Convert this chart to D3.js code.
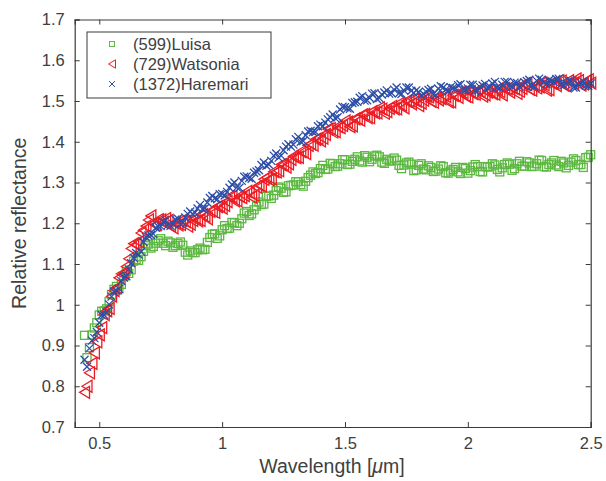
<!DOCTYPE html>
<html>
<head>
<meta charset="utf-8">
<script src="https://cdn.jsdelivr.net/npm/d3@7"></script>
<style>
  body { margin: 0; background: #fff; }
  svg { display: block; font-family: Arial, "Liberation Sans", Helvetica, sans-serif; }
</style>
</head>
<body>
<svg id="chart" width="606" height="481"></svg>
<script>
// ---- data ----
const wavelength = [
  0.44,0.46,0.48,0.50,0.52,0.54,0.56,0.58,0.60,0.62,0.64,0.66,0.68,0.70,0.72,0.74,0.76,0.78,0.80,0.82,
  0.84,0.86,0.88,0.90,0.92,0.94,0.96,0.98,1.00,1.02,1.04,1.06,1.08,1.10,1.12,1.14,1.16,1.18,1.20,1.22,
  1.24,1.26,1.28,1.30,1.32,1.34,1.36,1.38,1.40,1.42,1.44,1.46,1.48,1.50,1.52,1.54,1.56,1.58,1.60,1.62,
  1.64,1.66,1.68,1.70,1.72,1.74,1.76,1.78,1.80,1.82,1.84,1.86,1.88,1.90,1.92,1.94,1.96,1.98,2.00,2.02,
  2.04,2.06,2.08,2.10,2.12,2.14,2.16,2.18,2.20,2.22,2.24,2.26,2.28,2.30,2.32,2.34,2.36,2.38,2.40,2.42,
  2.44,2.46,2.48,2.50
];
const wavelengthB = [
  0.45,0.47,0.49,0.51,0.53,0.55,0.57,0.59,0.61,0.63,0.65,0.67,0.69,0.71,0.73,0.75,0.77,0.79,0.81,0.83,
  0.85,0.87,0.89,0.91,0.93,0.95,0.97,0.99,1.01,1.03,1.05,1.07,1.09,1.11,1.13,1.15,1.17,1.19,1.21,1.23,
  1.25,1.27,1.29,1.31,1.33,1.35,1.37,1.39,1.41,1.43,1.45,1.47,1.49,1.51,1.53,1.55,1.57,1.59,1.61,1.63,
  1.65,1.67,1.69,1.71,1.73,1.75,1.77,1.79,1.81,1.83,1.85,1.87,1.89,1.91,1.93,1.95,1.97,1.99,2.01,2.03,
  2.05,2.07,2.09,2.11,2.13,2.15,2.17,2.19,2.21,2.23,2.25,2.27,2.29,2.31,2.33,2.35,2.37,2.39,2.41,2.43,
  2.45,2.47,2.49
];
const luisa = [
  0.925,0.895,0.943,0.975,0.985,1.008,1.038,1.039,1.069,1.077,1.107,1.109,1.131,1.149,1.143,1.157,1.151,1.156,1.141,1.150,
  1.146,1.122,1.128,1.135,1.135,1.153,1.173,1.163,1.184,1.187,1.202,1.194,1.211,1.229,1.223,1.242,1.246,1.266,1.261,1.280,
  1.286,1.277,1.293,1.302,1.295,1.303,1.318,1.322,1.334,1.332,1.347,1.339,1.346,1.356,1.345,1.357,1.353,1.366,1.351,1.365,
  1.363,1.347,1.353,1.360,1.342,1.343,1.350,1.329,1.342,1.333,1.341,1.327,1.333,1.339,1.323,1.332,1.326,1.337,1.323,1.338,
  1.339,1.326,1.338,1.346,1.332,1.336,1.348,1.330,1.346,1.340,1.351,1.339,1.346,1.354,1.338,1.348,1.343,1.352,1.336,1.350,
  1.354,1.344,1.361,1.368
];
const luisaB = [
  0.870,0.926,0.956,0.984,0.990,1.025,1.045,1.050,1.082,1.086,1.111,1.118,1.145,1.139,1.151,1.162,1.145,1.152,1.145,1.154,
  1.129,1.132,1.128,1.139,1.136,1.165,1.174,1.169,1.194,1.188,1.201,1.200,1.225,1.219,1.233,1.252,1.247,1.267,1.269,1.289,
  1.276,1.292,1.294,1.302,1.291,1.312,1.326,1.324,1.342,1.333,1.346,1.340,1.356,1.344,1.352,1.363,1.350,1.362,1.357,1.367,
  1.350,1.357,1.353,1.355,1.334,1.348,1.345,1.331,1.346,1.331,1.337,1.328,1.341,1.324,1.328,1.337,1.322,1.334,1.329,1.344,
  1.327,1.339,1.339,1.343,1.326,1.344,1.345,1.334,1.352,1.340,1.348,1.340,1.355,1.339,1.344,1.354,1.339,1.348,1.342,1.358,
  1.344,1.337,1.362
];
const watsonia = [
  0.785,0.833,0.882,0.926,0.976,0.991,1.035,1.066,1.077,1.113,1.150,1.155,1.183,1.208,1.199,1.209,1.202,1.207,1.189,1.196,
  1.209,1.193,1.207,1.206,1.221,1.211,1.230,1.241,1.237,1.253,1.265,1.255,1.263,1.278,1.264,1.289,1.292,1.312,1.309,1.326,
  1.344,1.338,1.357,1.361,1.376,1.371,1.395,1.406,1.402,1.418,1.432,1.425,1.435,1.451,1.437,1.456,1.453,1.467,1.459,1.471,
  1.483,1.470,1.482,1.481,1.494,1.483,1.500,1.503,1.489,1.502,1.510,1.497,1.503,1.515,1.498,1.514,1.509,1.521,1.510,1.518,
  1.527,1.512,1.522,1.518,1.529,1.515,1.530,1.532,1.519,1.531,1.540,1.527,1.532,1.544,1.527,1.544,1.538,1.549,1.537,1.545,
  1.554,1.539,1.549,1.544
];
const watsoniaB = [
  0.800,0.856,0.909,0.944,0.985,1.021,1.042,1.076,1.094,1.138,1.148,1.176,1.193,1.218,1.196,1.208,1.211,1.194,1.202,1.197,
  1.204,1.198,1.212,1.207,1.217,1.229,1.227,1.243,1.244,1.265,1.255,1.266,1.268,1.275,1.269,1.293,1.308,1.307,1.327,1.329,
  1.344,1.346,1.364,1.362,1.375,1.391,1.392,1.408,1.409,1.431,1.424,1.437,1.440,1.448,1.439,1.457,1.466,1.459,1.474,1.471,
  1.480,1.474,1.487,1.481,1.490,1.500,1.493,1.500,1.495,1.512,1.499,1.507,1.506,1.511,1.498,1.514,1.521,1.512,1.523,1.517,
  1.523,1.515,1.525,1.517,1.523,1.531,1.522,1.530,1.524,1.542,1.529,1.537,1.535,1.540,1.528,1.543,1.550,1.539,1.550,1.544,
  1.550,1.542,1.552
];
const haremari = [
  0.865,0.893,0.918,0.956,0.975,1.001,1.032,1.039,1.067,1.087,1.115,1.123,1.154,1.170,1.174,1.192,1.203,1.196,1.198,1.211,
  1.201,1.223,1.223,1.236,1.235,1.251,1.267,1.259,1.272,1.277,1.295,1.288,1.304,1.315,1.309,1.327,1.343,1.341,1.353,1.371,
  1.366,1.388,1.388,1.406,1.400,1.416,1.427,1.424,1.442,1.447,1.460,1.458,1.479,1.485,1.481,1.497,1.508,1.501,1.508,1.519,
  1.507,1.521,1.518,1.528,1.519,1.526,1.533,1.520,1.522,1.517,1.527,1.517,1.530,1.533,1.524,1.532,1.539,1.528,1.531,1.540,
  1.526,1.538,1.534,1.543,1.533,1.540,1.547,1.535,1.544,1.540,1.549,1.538,1.550,1.552,1.541,1.549,1.554,1.541,1.542,1.549,
  1.533,1.544,1.538,1.543
];
const haremariB = [
  0.848,0.912,0.933,0.975,0.982,1.020,1.034,1.058,1.070,1.102,1.127,1.130,1.166,1.171,1.189,1.193,1.207,1.194,1.209,1.198,
  1.214,1.229,1.226,1.245,1.237,1.262,1.261,1.271,1.268,1.287,1.300,1.287,1.314,1.311,1.324,1.330,1.349,1.344,1.366,1.361,
  1.379,1.394,1.393,1.412,1.402,1.425,1.424,1.438,1.438,1.455,1.467,1.460,1.486,1.482,1.495,1.498,1.512,1.502,1.518,1.505,
  1.516,1.526,1.519,1.533,1.517,1.533,1.525,1.526,1.513,1.523,1.530,1.515,1.536,1.528,1.534,1.531,1.541,1.527,1.540,1.525,
  1.534,1.542,1.535,1.547,1.531,1.547,1.539,1.545,1.535,1.546,1.552,1.535,1.555,1.546,1.551,1.547,1.555,1.539,1.550,1.533,
  1.541,1.547,1.537
];
const seriesNames = ["(599)Luisa", "(729)Watsonia", "(1372)Haremari"];
const seriesColors = ["#5cb840", "#ec1c24", "#2d4ea8"];
const seriesMarkers = ["square", "triangle-left", "cross"];
const xTicks = [0.5, 1, 1.5, 2, 2.5];
const yTicks = [0.7, 0.8, 0.9, 1, 1.1, 1.2, 1.3, 1.4, 1.5, 1.6, 1.7];

// build point lists per series (both samplings)
function points(vA, vB) {
  const pts = wavelength.map((w, i) => ({ w, v: vA[i] }))
    .concat(wavelengthB.map((w, i) => ({ w, v: vB[i] })));
  return pts.sort((a, b) => a.w - b.w);
}
const seriesData = [points(luisa, luisaB), points(watsonia, watsoniaB), points(haremari, haremariB)];

// ---- layout ----
const svg = d3.select("#chart");
const m = { left: 74.7, right: 590.7, top: 19.5, bottom: 427 };
const x = d3.scaleLinear().domain([0.4, 2.5]).range([m.left, m.right]);
const y = d3.scaleLinear().domain([0.7, 1.7]).range([m.bottom, m.top]);
const axisColor = "#3a3a3a";
const textColor = "#404040";

function drawMarker(g, type, color, size, sw) {
  const s = size / 2;
  if (type === "square") {
    g.append("rect").attr("x", -s).attr("y", -s).attr("width", size).attr("height", size)
      .attr("fill", "none").attr("stroke", color).attr("stroke-width", sw);
  } else if (type === "triangle-left") {
    const h = size * 0.6;
    g.append("path").attr("d", `M${-s},0 L${s},${-h} L${s},${h} Z`)
      .attr("fill", "none").attr("stroke", color).attr("stroke-width", sw);
  } else {
    g.append("path").attr("d", `M${-s},${-s} L${s},${s} M${-s},${s} L${s},${-s}`)
      .attr("fill", "none").attr("stroke", color).attr("stroke-width", sw);
  }
}

const plot = svg.append("g");
seriesData.forEach((pts, i) => {
  const g = plot.append("g");
  const size = [8, 10, 8][i];
  pts.forEach(p => {
    const mg = g.append("g").attr("transform", `translate(${x(p.w)},${y(p.v)})`);
    drawMarker(mg, seriesMarkers[i], seriesColors[i], size, 1.3);
  });
});

// axes (MATLAB style box with inward ticks)
const tl = 5;
const axB = svg.append("g").attr("transform", `translate(0,${m.bottom})`)
  .call(d3.axisBottom(x).tickValues(xTicks).tickSize(-tl).tickPadding(10).tickFormat(d3.format("")));
const axT = svg.append("g").attr("transform", `translate(0,${m.top})`)
  .call(d3.axisTop(x).tickValues(xTicks).tickSize(-tl).tickFormat(""));
const axL = svg.append("g").attr("transform", `translate(${m.left},0)`)
  .call(d3.axisLeft(y).tickValues(yTicks).tickSize(-tl).tickPadding(10).tickFormat(d3.format("")));
const axR = svg.append("g").attr("transform", `translate(${m.right},0)`)
  .call(d3.axisRight(y).tickValues(yTicks).tickSize(-tl).tickFormat(""));
[axB, axT, axL, axR].forEach(a => {
  a.select(".domain").attr("stroke", axisColor).attr("stroke-width", 1.2);
  a.selectAll(".tick line").attr("stroke", axisColor).attr("stroke-width", 1);
  a.selectAll(".tick text").attr("fill", textColor).style("font-size", "16.5px")
    .style("font-family", "Arial, 'Liberation Sans', sans-serif");
});
axB.selectAll(".tick text").attr("dy", "0.75em");

// axis labels
svg.append("text").attr("x", 332).attr("y", 473).attr("text-anchor", "middle")
  .attr("fill", textColor).style("font-size", "19.5px")
  .html('Wavelength [<tspan font-style="italic">μ</tspan>m]');
svg.append("text").attr("transform", `translate(26,${(m.top + m.bottom) / 2}) rotate(-90)`)
  .attr("text-anchor", "middle").attr("fill", textColor).style("font-size", "19.5px")
  .text("Relative reflectance");

// legend
const lg = svg.append("g");
lg.append("rect").attr("x", 87).attr("y", 32).attr("width", 184).attr("height", 66)
  .attr("fill", "#fff").attr("stroke", axisColor).attr("stroke-width", 1);
seriesNames.forEach((name, i) => {
  const cy = 44 + i * 20;
  const mg = lg.append("g").attr("transform", `translate(112,${cy})`);
  drawMarker(mg, seriesMarkers[i], seriesColors[i], [5, 7, 6][i], 1);
  lg.append("text").attr("x", 133).attr("y", cy).attr("dy", "0.36em")
    .attr("fill", textColor).style("font-size", "16.5px").text(name);
});
</script>
</body>
</html>
